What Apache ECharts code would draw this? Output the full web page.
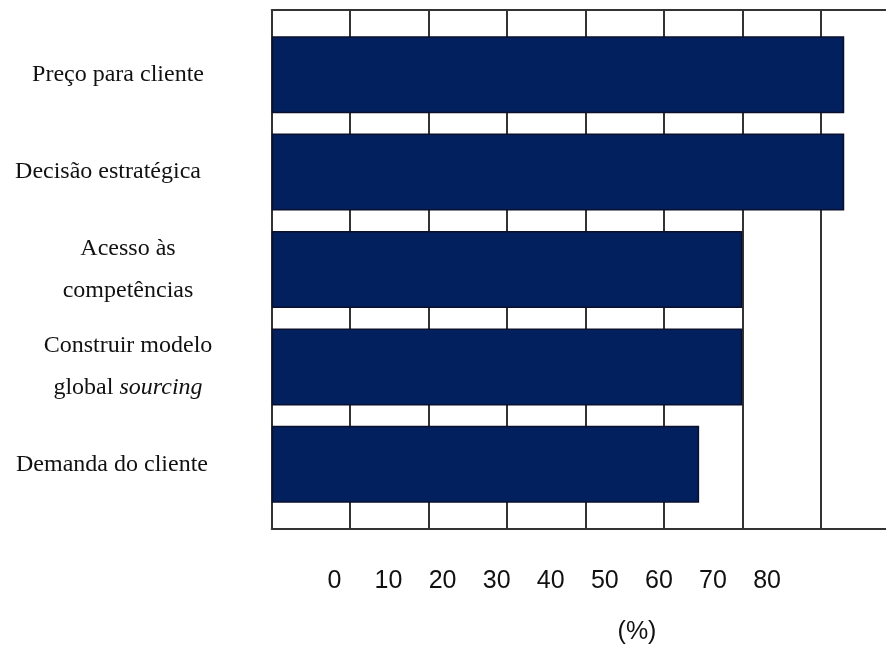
<!DOCTYPE html>
<html>
<head>
<meta charset="utf-8">
<script src="https://cdn.jsdelivr.net/npm/echarts@6/dist/echarts.min.js"></script>
<style>
  html, body { margin: 0; padding: 0; background: #ffffff; }
  #chart { width: 886px; height: 648px; }
</style>
</head>
<body>
<div id="chart"></div>
<script>
// Motives, top to bottom
const categories = [
  'Preço para cliente',
  'Decisão estratégica',
  'Acesso às\ncompetências',
  'Construir modelo\nglobal sourcing',
  'Demanda do cliente'
];
// Share of respondents (%)
const values = [73, 73, 60, 60, 54.5];
// Labels printed under the chart
const tickLabels = ['0', '10', '20', '30', '40', '50', '60', '70', '80'];
const unitLabel = '(%)';

// Layout constants
const CHART_W = 886;
const PLOT_LEFT = 271.7;
const STEP = 78.43;                                   // pixels per 10 %
const X_MAX = (CHART_W - PLOT_LEFT) / STEP * 10;      // the plot runs off the right edge
const labelShift = [10, 20, 0, 0, 16];                // leftward nudge of each category label

const serif = '"Liberation Serif", "Times New Roman", serif';
const sans = '"Liberation Sans", Arial, sans-serif';
const lineCol = '#333';

function catLabel(value, index) {
  const s = 's' + index;
  return value.split('\n').map(line => {
    if (line.indexOf('sourcing') >= 0) {
      return '{' + s + '|' + line.replace('sourcing', '') + '}{it|sourcing}';
    }
    return '{' + s + '|' + line + '}';
  }).join('\n');
}

const rich = {
  it: { fontFamily: serif, fontSize: 24, fontStyle: 'italic', color: '#111', lineHeight: 42 }
};
labelShift.forEach((sh, i) => {
  rich['s' + i] = { fontFamily: serif, fontSize: 24, color: '#111', lineHeight: 42,
                    padding: [0, sh * 2, 0, 0] };
});

const chart = echarts.init(document.getElementById('chart'), null, { renderer: 'canvas' });

const hiddenParts = {
  axisTick: { show: false }, axisLabel: { show: false }
};

chart.setOption({
  backgroundColor: '#ffffff',
  animation: false,
  grid: [
    // frame with vertical grid lines
    { left: PLOT_LEFT, top: 10, right: 0, height: 518.3 },
    // bars
    { left: PLOT_LEFT, top: 26, right: 0, height: 487 },
    // printed scale
    { left: 307.4, top: 540, width: 486.7, height: 20 }
  ],
  xAxis: [
    { gridIndex: 0, type: 'value', min: 0, max: X_MAX, interval: 10, position: 'bottom',
      ...hiddenParts,
      axisLine: { show: true, onZero: false, lineStyle: { color: lineCol, width: 2 } },
      splitLine: { show: true, showMaxLine: false, lineStyle: { color: lineCol, width: 2 } } },
    { gridIndex: 0, type: 'value', min: 0, max: X_MAX, interval: 10, position: 'top',
      ...hiddenParts,
      axisLine: { show: true, onZero: false, lineStyle: { color: lineCol, width: 2 } },
      splitLine: { show: false } },
    { gridIndex: 1, type: 'value', min: 0, max: X_MAX, interval: 10, show: false },
    { gridIndex: 2, type: 'category', data: tickLabels,
      axisLine: { show: false }, axisTick: { show: false }, splitLine: { show: false },
      axisLabel: { show: true, interval: 0, margin: 9, color: '#111',
                   fontFamily: sans, fontSize: 25 } }
  ],
  yAxis: [
    { gridIndex: 0, type: 'value', min: 0, max: 1, show: false },
    { gridIndex: 1, type: 'category', inverse: true, data: categories,
      axisLine: { show: false }, axisTick: { show: false }, splitLine: { show: false },
      axisLabel: { show: true, interval: 0, margin: 143.7, align: 'center',
                   formatter: catLabel, rich: rich } },
    { gridIndex: 2, type: 'value', show: false }
  ],
  series: [
    {
      type: 'bar',
      xAxisIndex: 2,
      yAxisIndex: 1,
      data: values,
      barWidth: 77,
      itemStyle: { color: '#02205E', borderColor: '#0a0f2c', borderWidth: 1.5 }
    }
  ],
  graphic: [
    { type: 'text', x: 637, y: 632, z: 10,
      style: { text: unitLabel, font: '25px ' + sans, fill: '#111',
               align: 'center', verticalAlign: 'middle' } }
  ]
});
</script>
</body>
</html>
